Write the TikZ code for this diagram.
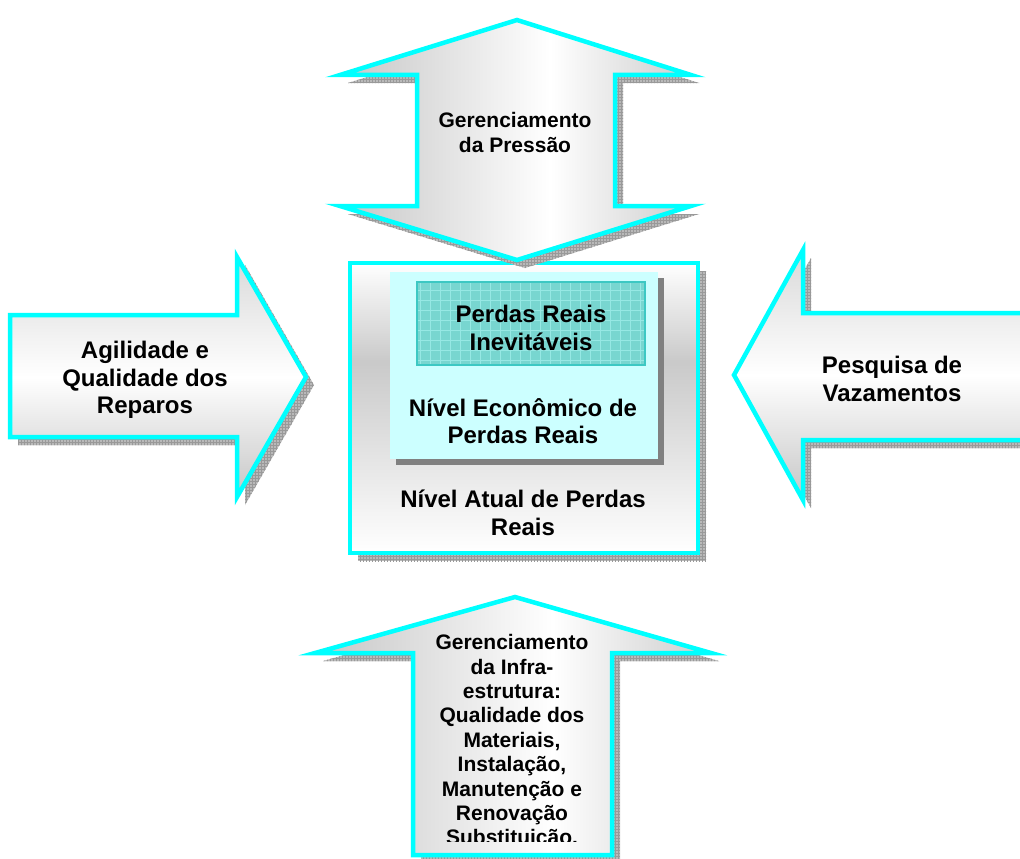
\documentclass[tikz,border=0pt]{standalone}
\usepackage{fontspec}
\setmainfont{Liberation Sans}
\usetikzlibrary{patterns}
\definecolor{acyan}{RGB}{0,255,255}
\definecolor{lcyan}{RGB}{204,255,255}
\definecolor{tealfill}{RGB}{120,214,208}
\definecolor{tealline}{RGB}{150,232,228}
\definecolor{tealborder}{RGB}{60,200,195}
\pgfdeclareverticalshading{boxshade}{100bp}{color(0bp)=(white); color(25bp)=(white); color(58bp)=(gray!42); color(75bp)=(white); color(100bp)=(white)}
\pgfdeclareverticalshading{hshade}{100bp}{color(0bp)=(gray!45); color(25bp)=(gray!45); color(50bp)=(white); color(75bp)=(gray!30); color(100bp)=(gray!30)}
\pgfdeclarehorizontalshading{vshade}{100bp}{color(0bp)=(gray!45); color(25bp)=(gray!45); color(55bp)=(white); color(75bp)=(gray!40); color(100bp)=(gray!40)}
\tikzset{
  shad/.style={fill=gray!55, postaction={pattern=grid, pattern color=gray!80}},
  cyanline/.style={draw=acyan, line width=4.5pt, line join=miter},
  big/.style={font=\bfseries\fontsize{24}{27.5}\selectfont, align=center, text=black},
  small/.style={font=\bfseries\fontsize{21}{25}\selectfont, align=center, text=black},
}
\newcommand\toppath{(517,20) -- (340,75) -- (417,75) -- (417,206) -- (340,206) -- (517,260) -- (691,206) -- (615,206) -- (615,75) -- (691,75) -- cycle}
\newcommand\leftpath{(10,315) -- (237,315) -- (237,257) -- (306,377) -- (237,497) -- (237,437) -- (10,437) -- cycle}
\newcommand\rightpath{(1035,313) -- (803,313) -- (803,250) -- (734,375) -- (803,500) -- (803,440) -- (1035,440) -- cycle}
\newcommand\botpath{(515,597) -- (315,653) -- (413,653) -- (413,855) -- (612,855) -- (612,653) -- (711,653) -- cycle}
\begin{document}
\begin{tikzpicture}[x=1pt, y=-1pt]
\useasboundingbox[fill=white] (0,0) rectangle (1020,859);
% center box
\fill[shad, shift={(8,8)}] (350,263) rectangle (698,553);
\path[shading=boxshade] (350,263) rectangle (698,553);
\draw[cyanline] (350,263) rectangle (698,553);
% inner cyan box
\fill[gray!75!black!80, shift={(6,6)}] (390,272) rectangle (658,459);
\fill[lcyan] (390,272) rectangle (658,459);
% teal box
\fill[tealfill] (417,282) rectangle (645,365);
\begin{scope}
\clip (417,282) rectangle (645,365);
\draw[tealline, line width=0.8pt, step=10pt] (417,282) grid (645,365);
\end{scope}
\draw[tealborder, line width=2pt] (417,282) rectangle (645,365);
\node[big] (inev) at (531,328) {Perdas Reais\\Inevitáveis};
\node[big] (econ) at (523,421) {Nível Econômico de\\Perdas Reais};
\node[big] (atual) at (523,513) {Nível Atual de Perdas\\Reais};
% top arrow
\fill[shad, shift={(8,8)}] \toppath;
\path[shading=vshade] \toppath;
\draw[cyanline] \toppath;
\node[small] (pressao) at (515,132) {Gerenciamento\\da Pressão};
% left arrow
\fill[shad, shift={(8,8)}] \leftpath;
\path[shading=hshade] \leftpath;
\draw[cyanline] \leftpath;
\node[big] (agil) at (145,380) {Agilidade e\\Qualidade dos\\Reparos};
% right arrow
\fill[shad, shift={(8,8)}] \rightpath;
\path[shading=hshade] \rightpath;
\draw[cyanline] \rightpath;
\node[big] (pesq) at (892,379) {Pesquisa de\\Vazamentos};
% bottom arrow
\fill[shad, shift={(8,8)}] \botpath;
\path[shading=vshade] \botpath;
\draw[cyanline] \botpath;
\begin{scope}
\clip (413,600) rectangle (612,841);
\node[font=\bfseries\fontsize{21}{24.4}\selectfont, align=center, anchor=north] (infra) at (512,631) {Gerenciamento\\da Infra-\\estrutura:\\Qualidade dos\\Materiais,\\Instalação,\\Manutenção e\\Renovação\\Substituição.};
\end{scope}
\end{tikzpicture}
\end{document}
